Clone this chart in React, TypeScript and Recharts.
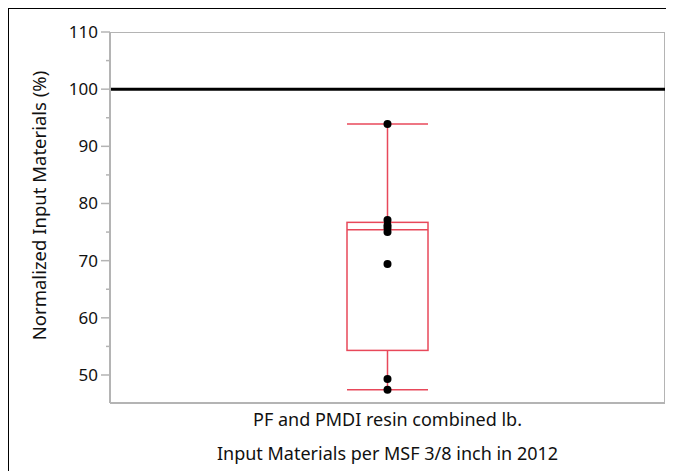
import React from "react";
import {
  ComposedChart,
  Bar,
  Scatter,
  XAxis,
  YAxis,
  ReferenceLine,
  ReferenceArea,
} from "recharts";

// box plot summary
const categories = ["PF and PMDI resin combined lb."];
const boxQ1 = [54.3];
const boxQ3 = [76.7];
const boxMedian = [75.4];
const whiskerLow = [47.4];
const whiskerHigh = [93.9];

// individual observations
const pointValues = [93.9, 77.1, 76.2, 75.7, 75.0, 69.4, 49.3, 47.4];

const yTicks = [50, 55, 60, 65, 70, 75, 80, 85, 90, 95, 100, 105, 110];
const yDomain = [45.1, 110];
const baseline = 100;

const RED = "#e8485a";
const FRAME = "#b4b4b4";
const FONT = "'Noto Sans', sans-serif";

const boxData = categories.map((name, i) => ({
  name,
  box: [boxQ1[i], boxQ3[i]],
  whisker: [whiskerLow[i], whiskerHigh[i]],
  median: boxMedian[i],
  q1: boxQ1[i],
  q3: boxQ3[i],
}));

const pointData = pointValues.map((value) => ({ name: categories[0], value }));

function YTick(props: any) {
  const { x, y, payload } = props;
  const major = payload.value % 10 === 0;
  return (
    <g>
      <line x1={x - (major ? 9 : 4)} x2={x} y1={y} y2={y} stroke={FRAME} strokeWidth={1.5} />
      {major && (
        <text x={x - 12} y={y + 6} textAnchor="end" fontSize={17} fontFamily={FONT} fill="#111">
          {payload.value}
        </text>
      )}
    </g>
  );
}

function XTick(props: any) {
  const { x, y, payload } = props;
  return (
    <text x={x} y={y + 15} textAnchor="middle" fontSize={18} fontFamily={FONT} fill="#111">
      {payload.value}
    </text>
  );
}

function WhiskerShape(props: any) {
  const { x, y, width, height } = props;
  const cx = x + width / 2;
  return (
    <g>
      <line x1={x} x2={x + width} y1={y} y2={y} stroke={RED} strokeWidth={1.5} />
      <line x1={x} x2={x + width} y1={y + height} y2={y + height} stroke={RED} strokeWidth={1.5} />
      <line x1={cx} x2={cx} y1={y} y2={y + height} stroke={RED} strokeWidth={1.5} />
    </g>
  );
}

function BoxShape(props: any) {
  const { x, y, width, height, payload } = props;
  // median placed inside the box by its share of the q1..q3 range
  const my = y + (height * (payload.q3 - payload.median)) / (payload.q3 - payload.q1);
  return (
    <g>
      <rect x={x} y={y} width={width} height={height} fill="#fff" stroke={RED} strokeWidth={1.5} />
      <line x1={x} x2={x + width} y1={my} y2={my} stroke={RED} strokeWidth={1.5} />
    </g>
  );
}

function Dot(props: any) {
  const { cx, cy } = props;
  return <circle cx={cx} cy={cy} r={4} fill="#000" />;
}

export default function App() {
  return (
    <div
      style={{
        width: 666,
        height: 463,
        borderTop: "1px solid #000",
        borderLeft: "1px solid #000",
        boxSizing: "border-box",
      }}
    >
      <ComposedChart
        width={665}
        height={462}
        data={boxData}
        margin={{ top: 23, right: 9, left: 0, bottom: 0 }}
        barGap={-81}
      >
        <ReferenceArea
          y1={yDomain[0]}
          y2={yDomain[1]}
          fill="none"
          stroke={FRAME}
          strokeWidth={2}
          ifOverflow="hidden"
        />
        <XAxis
          dataKey="name"
          type="category"
          allowDuplicatedCategory={false}
          height={68}
          tickLine={false}
          axisLine={{ stroke: FRAME, strokeWidth: 2 }}
          tick={<XTick />}
          interval={0}
          label={{
            content: ({ viewBox }: any) => (
              <text
                x={viewBox.x + viewBox.width / 2}
                y={viewBox.y + 57}
                textAnchor="middle"
                fontSize={18}
                fontFamily={FONT}
                fill="#111"
              >
                Input Materials per MSF 3/8 inch in 2012
              </text>
            ),
          }}
        />
        <YAxis
          type="number"
          domain={yDomain}
          ticks={yTicks}
          interval={0}
          width={101}
          tickSize={0}
          tickMargin={0}
          tickLine={false}
          axisLine={{ stroke: FRAME, strokeWidth: 2 }}
          tick={<YTick />}
          allowDataOverflow
          label={{
            content: ({ viewBox }: any) => {
              const lx = viewBox.x + 37;
              const ly = viewBox.y + viewBox.height / 2 - 12;
              return (
                <text
                  x={lx}
                  y={ly}
                  transform={`rotate(-90 ${lx} ${ly})`}
                  textAnchor="middle"
                  fontSize={18.5}
                  fontFamily={FONT}
                  fill="#111"
                >
                  Normalized Input Materials (%)
                </text>
              );
            },
          }}
        />
        <ReferenceLine y={baseline} stroke="#000" strokeWidth={3} />
        <Bar dataKey="whisker" barSize={81} shape={<WhiskerShape />} isAnimationActive={false} />
        <Bar dataKey="box" barSize={81} shape={<BoxShape />} isAnimationActive={false} />
        <Scatter data={pointData} dataKey="value" shape={<Dot />} isAnimationActive={false} />
      </ComposedChart>
    </div>
  );
}
